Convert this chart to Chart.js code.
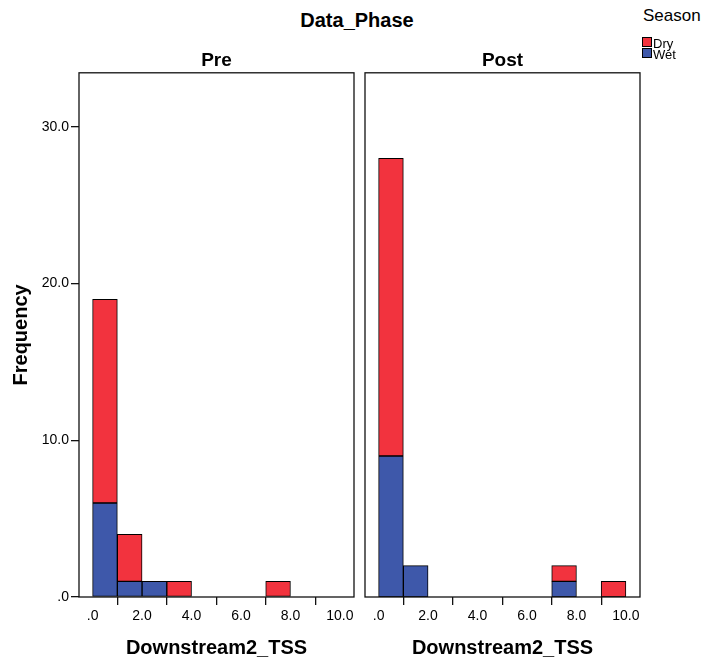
<!DOCTYPE html>
<html>
<head>
<meta charset="utf-8">
<title>Downstream2_TSS by Data_Phase</title>
<script src="https://cdn.jsdelivr.net/npm/chart.js@4/dist/chart.umd.min.js"></script>
<style>
  html, body { margin: 0; padding: 0; background: #fff; }
  #wrap { position: relative; width: 704px; height: 665px; overflow: hidden;
          font-family: "Liberation Sans", Arial, sans-serif; color: #000; }
  canvas { position: absolute; top: 0; }
  #pre { left: 0; }
  #post { left: 360px; }
  #facet { position: absolute; left: 257px; width: 200px; top: 10px; line-height: 20px;
           text-align: center; font-weight: bold; font-size: 20px; }
  #legendTitle { position: absolute; left: 643px; top: 7px; font-size: 17px; line-height: 17px; }
  .swatch { position: absolute; left: 642px; width: 8px; height: 8px; border: 1px solid #000; }
  .lbl { position: absolute; left: 653px; font-size: 13px; line-height: 13px; }
</style>
</head>
<body>
<div id="wrap">
  <div id="facet">Data_Phase</div>
  <div id="legendTitle">Season</div>
  <canvas id="pre" width="360" height="665"></canvas>
  <canvas id="post" width="290" height="665"></canvas>
</div>
<script>
// Histogram bins (width 1.0), given by their centres
const binCenters = [0.5, 1.5, 2.5, 3.5, 4.5, 5.5, 6.5, 7.5, 8.5, 9.5];

// Frequencies per bin, by season
const preWet  = [6, 1, 1, 0, 0, 0, 0, 0, 0, 0];
const preDry  = [13, 3, 0, 1, 0, 0, 0, 1, 0, 0];
const postWet = [9, 2, 0, 0, 0, 0, 0, 1, 0, 0];
const postDry = [19, 0, 0, 0, 0, 0, 0, 1, 0, 1];

// Axis ticks
const xTicks = [0, 2, 4, 6, 8, 10];
const xTickLabels = ['.0', '2.0', '4.0', '6.0', '8.0', '10.0'];
const yTicks = [0, 10, 20, 30];
const yTickLabels = ['.0', '10.0', '20.0', '30.0'];

const seasons = ['Dry', 'Wet'];
const seasonColors = { Dry: '#f2333e', Wet: '#3e58aa' };

const FONT = '"Liberation Sans", Arial, sans-serif';

// Legend (top right)
const wrap = document.getElementById('wrap');
seasons.forEach((s, i) => {
  const sw = document.createElement('div');
  sw.className = 'swatch';
  sw.style.top = (37 + i * 11) + 'px';
  sw.style.background = seasonColors[s];
  wrap.appendChild(sw);
  const t = document.createElement('div');
  t.className = 'lbl';
  t.style.top = (37 + i * 10.5) + 'px';
  t.textContent = s;
  wrap.appendChild(t);
});

// Box around each panel's plot area
const framePlugin = {
  id: 'panelFrame',
  afterDatasetsDraw(chart) {
    const { ctx, chartArea: a } = chart;
    ctx.save();
    ctx.strokeStyle = '#111';
    ctx.lineWidth = 1.3;
    ctx.strokeRect(a.left, a.top, a.right - a.left, a.bottom - a.top);
    ctx.restore();
  }
};

function toPoints(values) {
  return binCenters.map((x, i) => ({ x: x, y: values[i] ? values[i] : null }));
}

function makePanel(id, title, wet, dry, showY, padding) {
  const tickGrid = { display: true, drawOnChartArea: false, drawTicks: true,
                     tickLength: 8, color: '#111', lineWidth: 1.3 };
  return new Chart(document.getElementById(id), {
    type: 'bar',
    data: {
      datasets: [
        { label: 'Wet', data: toPoints(wet), backgroundColor: seasonColors.Wet },
        { label: 'Dry', data: toPoints(dry), backgroundColor: seasonColors.Dry }
      ]
    },
    options: {
      responsive: false,
      animation: false,
      devicePixelRatio: 1,
      layout: { padding: padding },
      datasets: {
        bar: { barPercentage: 1, categoryPercentage: 1, borderWidth: 1,
               borderColor: '#000', borderSkipped: false }
      },
      plugins: {
        legend: { display: false },
        tooltip: { enabled: false },
        title: {
          display: true, text: title, fullSize: false, color: '#000',
          font: { family: FONT, size: 19, weight: 'bold' },
          padding: { top: 2, bottom: 1 }
        }
      },
      scales: {
        x: {
          type: 'linear', min: -0.55, max: 10.57, stacked: true, offset: false,
          grid: tickGrid,
          border: { display: false },
          afterBuildTicks: s => { s.ticks = xTicks.map(v => ({ value: v })); },
          afterFit: s => { s.height = 68; },
          ticks: {
            color: '#000', padding: 3, autoSkip: false, maxRotation: 0,
            font: { family: FONT, size: 14 },
            callback: v => xTickLabels[xTicks.indexOf(v)]
          },
          title: {
            display: true, text: 'Downstream2_TSS', color: '#000',
            font: { family: FONT, size: 20, weight: 'bold' },
            padding: { top: 0, bottom: 5 }
          }
        },
        y: {
          display: showY, min: 0, max: 33.45, stacked: true,
          grid: tickGrid,
          border: { display: false },
          afterBuildTicks: s => { s.ticks = yTicks.map(v => ({ value: v })); },
          afterFit: s => { s.width = showY ? 79 : 0; },
          ticks: {
            color: '#000', padding: 2,
            font: { family: FONT, size: 14 },
            callback: v => yTickLabels[yTicks.indexOf(v)]
          },
          title: {
            display: true, text: 'Frequency', color: '#000',
            font: { family: FONT, size: 20, weight: 'bold' },
            padding: { top: 9, bottom: 0 }
          }
        }
      }
    },
    plugins: [framePlugin]
  });
}

makePanel('pre', 'Pre', preWet, preDry, true, { top: 47, right: 6, bottom: 0, left: 0 });
makePanel('post', 'Post', postWet, postDry, false, { top: 47, right: 10, bottom: 0, left: 5 });
</script>
</body>
</html>
